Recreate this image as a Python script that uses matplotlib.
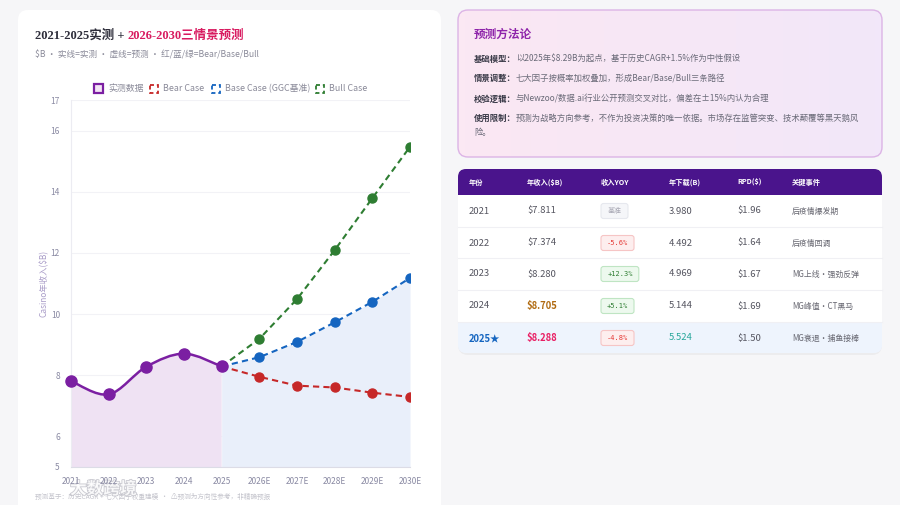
import numpy as np
import matplotlib
matplotlib.use("Agg")
import matplotlib.pyplot as plt
from matplotlib.patches import FancyBboxPatch, Rectangle, PathPatch
from matplotlib.path import Path
from matplotlib.colors import LinearSegmentedColormap
import matplotlib.patheffects as pe

plt.rcParams['font.family'] = ['Noto Sans CJK SC', 'DejaVu Sans']
plt.rcParams['text.parse_math'] = False
SERIF = ['Liberation Serif', 'Noto Sans CJK SC']

# chart data ($B)
years = ['2021', '2022', '2023', '2024', '2025', '2026E', '2027E', '2028E', '2029E', '2030E']
actual = [7.811, 7.374, 8.280, 8.705, 8.288]
bear = [7.95, 7.66, 7.60, 7.43, 7.29]
base = [8.59, 9.09, 9.73, 10.40, 11.18]
bull = [9.19, 10.49, 12.09, 13.79, 15.47]
yticks = [5, 6, 8, 10, 12, 14, 16, 17]

# table data
tbl_head = ['年份', '年收入($B)', '收入YOY', '年下载(B)', 'RPD($)', '关键事件']
tbl_year = ['2021', '2022', '2023', '2024', '2025★']
tbl_rev = ['$7.811', '$7.374', '$8.280', '$8.705', '$8.288']
tbl_yoy = ['基准', '-5.6%', '+12.3%', '+5.1%', '-4.8%']
tbl_dl = ['3.980', '4.492', '4.969', '5.144', '5.524']
tbl_rpd = ['$1.96', '$1.64', '$1.67', '$1.69', '$1.50']
tbl_event = ['后疫情爆发期', '后疫情回调', 'MG上线・强劲反弹', 'MG峰值・CT黑马', 'MG衰退・捕鱼接棒']

method_lbl = ['基础模型：', '情景调整：', '校验逻辑：', '使用限制：']
method_txt = ['以2025年$8.29B为起点，基于历史CAGR+1.5%作为中性假设',
              '七大因子按概率加权叠加，形成Bear/Base/Bull三条路径',
              '与Newzoo/数据.ai行业公开预测交叉对比，偏差在±15%内认为合理',
              '预测为战略方向参考，不作为投资决策的唯一依据。市场存在监管突变、技术颠覆等黑天鹅风']

PURPLE = '#7b1fa2'
RED = '#c62828'
BLUE = '#1565c0'
GREEN = '#2e7d32'

fig = plt.figure(figsize=(9, 5.05), dpi=100)
fig.patch.set_facecolor('#f6f6f8')

# background axes in pixel coordinates
bg = fig.add_axes([0, 0, 1, 1])
bg.set_xlim(0, 900)
bg.set_ylim(505, 0)
bg.axis('off')
bg.set_zorder(0)


def card(x, y, w, h, fc, ec='none', r=10, lw=1, z=1, shadow=True):
    if shadow:
        bg.add_patch(FancyBboxPatch((x, y + 2), w, h, boxstyle=f"round,pad=0,rounding_size={r}",
                                    fc='#000000', ec='none', alpha=0.04, zorder=z - 0.1))
    p = FancyBboxPatch((x, y), w, h, boxstyle=f"round,pad=0,rounding_size={r}",
                       fc=fc, ec=ec, lw=lw, zorder=z)
    bg.add_patch(p)
    return p


renderer = fig.canvas.get_renderer()


def after(t):
    return t.get_window_extent(renderer).x1


# left card
card(18, 10, 423, 510, 'white')
t1 = bg.text(35, 36, '2021-2025实测 + ', fontsize=9, fontweight='bold', color='#2d2d3a',
             va='center', family=SERIF)
bg.text(after(t1), 36, '2026-2030三情景预测', fontsize=9, fontweight='bold', color='#d81b60',
        va='center', family=SERIF)
bg.text(35, 55, '$B · 实线=实测 · 虚线=预测 · 红/蓝/绿=Bear/Base/Bull', fontsize=6.2,
        color='#8a8a99', va='center')

# legend
bg.add_patch(Rectangle((93.5, 84), 9, 9, fc='#f3e5f5', ec=PURPLE, lw=1.6, zorder=3))
bg.text(108, 88.5, '实测数据', fontsize=6.4, color='#8a8a99', va='center')
for x0, col, lab in [(150, RED, 'Bear Case'), (212, BLUE, 'Base Case (GGC基准)'), (316, GREEN, 'Bull Case')]:
    bg.add_patch(Rectangle((x0, 84.5), 8, 8, fc='none', ec=col, lw=1.3, ls=(0, (2.2, 1.6)), zorder=3))
    bg.text(x0 + 13, 88.5, lab, fontsize=6.4, color='#8a8a99', va='center')

# footnote + watermark
bg.text(35, 497, '预测基于：历史CAGR + 七大因子权重建模  ·  ⚠预测为方向性参考，非精确预报',
        fontsize=4.8, color='#c4c4cc', va='center', zorder=5)
wm = bg.text(70, 489, '大数跨境', fontsize=12, fontweight='bold', color='white', va='center', alpha=0.85, zorder=6)
wm.set_path_effects([pe.withStroke(linewidth=1.2, foreground='#c0c0c8')])

# chart axes
ax = fig.add_axes([71 / 900, 1 - 467 / 505, 339 / 900, 367 / 505])
ax.set_zorder(2)
ax.patch.set_alpha(0)
ax.set_xlim(0, 9)
ax.set_ylim(5, 17)
ax.set_yticks(yticks)
ax.set_xticks(range(len(years)))
ax.set_xticklabels(years)
ax.tick_params(length=0, labelsize=6, labelcolor='#8a8aa3')
ax.tick_params(axis='y', pad=8)
ax.tick_params(axis='x', pad=7)
for s in ['top', 'right']:
    ax.spines[s].set_visible(False)
ax.spines['left'].set_color('#ececf2')
ax.spines['bottom'].set_color('#dcdce6')
ax.spines['left'].set_linewidth(0.8)
ax.spines['bottom'].set_linewidth(0.8)
for v in yticks[1:]:
    ax.axhline(v, color='#f2f2f6', lw=0.8, zorder=0)
ax.set_ylabel('Casino年收入($B)', fontsize=6, color='#a99cc8', labelpad=1)

xa = np.arange(len(actual))
xf = np.arange(len(actual) - 1, len(years))


def curve(xs, ys, k=1 / 6):
    pts = np.column_stack([xs, ys])
    verts = [pts[0]]
    codes = [Path.MOVETO]
    n = len(pts)
    for i in range(n - 1):
        p0 = pts[max(i - 1, 0)]
        p1 = pts[i]
        p2 = pts[i + 1]
        p3 = pts[min(i + 2, n - 1)]
        verts += [p1 + (p2 - p0) * k, p2 - (p3 - p1) * k, p2]
        codes += [Path.CURVE4] * 3
    return verts, codes


# fills
base_full = [actual[-1]] + base
ax.fill_between(xf, base_full, 5, color='#e9effa', lw=0, zorder=1)
v, c = curve(xa, actual)
v_fill = v + [(xa[-1], 5), (xa[0], 5), v[0]]
c_fill = c + [Path.LINETO, Path.LINETO, Path.CLOSEPOLY]
ax.add_patch(PathPatch(Path(v_fill, c_fill), fc='#efe2f3', ec='none', zorder=1))

# scenario lines
for vals, col in [(bull, GREEN), (base, BLUE), (bear, RED)]:
    full = [actual[-1]] + vals
    ax.plot(xf, full, color=col, lw=1.5, ls=(0, (3, 2)), zorder=3)
    ax.plot(xf[1:], vals, 'o', color=col, ms=6.5, zorder=4)

# actual line
ax.add_patch(PathPatch(Path(v, c), fc='none', ec=PURPLE, lw=1.8, zorder=5))
ax.plot(xa, actual, 'o', color=PURPLE, ms=8, zorder=6, clip_on=False)

# methodology box with soft gradient
box = card(458, 10, 424, 147, 'none', ec='#dcb4e6', lw=1, shadow=False, z=2)
grad = LinearSegmentedColormap.from_list('g', ['#fbe8f3', '#f2e7f9'])
im = bg.imshow(np.linspace(0, 1, 64).reshape(1, -1), cmap=grad, aspect='auto',
               extent=(458, 882, 157, 10), zorder=1.5)
im.set_clip_path(box)
bg.set_xlim(0, 900)
bg.set_ylim(505, 0)
bg.text(474, 35, '预测方法论', fontsize=8.4, fontweight='bold', color='#8e24aa', va='center', family=SERIF)
for y0, lbl, txt in zip([59, 78, 99, 118], method_lbl, method_txt):
    tl = bg.text(474, y0, lbl, fontsize=6, fontweight='bold', color='#3a3a48', va='center', zorder=3)
    bg.text(after(tl), y0, txt, fontsize=6, color='#6a6a78', va='center', zorder=3)
bg.text(474, 133, '险。', fontsize=6, color='#6a6a78', va='center', zorder=3)

# table
card(458, 169, 424, 184, 'white', z=1)
bg.add_patch(FancyBboxPatch((458, 169), 424, 34, boxstyle="round,pad=0,rounding_size=8",
                            fc='#4a148c', ec='none', zorder=2))
bg.add_patch(Rectangle((458, 195), 424, 127, fc='white', ec='none', zorder=2.1))
bg.add_patch(FancyBboxPatch((458, 322), 424, 31, boxstyle="round,pad=0,rounding_size=8",
                            fc='#eef4fd', ec='none', zorder=2.1))
bg.add_patch(Rectangle((458, 322), 424, 12, fc='#eef4fd', ec='none', zorder=2.2))

col_x = [469, 527, 601, 669, 737, 792]
for x0, h in zip(col_x, tbl_head):
    bg.text(x0, 182, h, fontsize=5.2, fontweight='bold', color='white', va='center', zorder=3)

row_top = [195, 227, 258, 290, 322]
for i in range(len(tbl_year)):
    yc = row_top[i] + 16
    if i > 0:
        bg.plot([458, 882], [row_top[i], row_top[i]], color='#f0f0f4', lw=0.8, zorder=2.5)
    last = i == len(tbl_year) - 1
    bg.text(col_x[0], yc, tbl_year[i], fontsize=6.8, va='center', zorder=3,
            color=BLUE if last else '#555560', fontweight='bold' if last else 'normal')
    rc, rw = '#555560', 'normal'
    if i == 3:
        rc, rw = '#b06a10', 'bold'
    if last:
        rc, rw = '#e91e63', 'bold'
    bg.text(col_x[1], yc, tbl_rev[i], fontsize=6.8, va='center', color=rc, fontweight=rw, zorder=3)
    yoy = tbl_yoy[i]
    if yoy.startswith('+'):
        fc, ec, tc = '#edf9ee', '#bfe5c3', '#2e7d32'
    elif yoy.startswith('-'):
        fc, ec, tc = '#fdeeee', '#f6c5c5', '#e53935'
    else:
        fc, ec, tc = '#f5f6f9', '#e6e8ee', '#a8a8b4'
    w = 27 if i == 0 else 9 + 4.8 * len(yoy)
    bg.add_patch(FancyBboxPatch((601, yc - 7.5), w, 15, boxstyle="round,pad=0,rounding_size=2.5",
                                fc=fc, ec=ec, lw=0.8, zorder=3))
    bg.text(601 + w / 2, yc, yoy, fontsize=5, ha='center', va='center', color=tc, zorder=4,
            family=['DejaVu Sans Mono', 'Noto Sans CJK SC'])
    bg.text(col_x[3], yc, tbl_dl[i], fontsize=6.8, va='center', zorder=3,
            color='#26a69a' if last else '#555560')
    bg.text(col_x[4], yc, tbl_rpd[i], fontsize=6.8, va='center', color='#555560', zorder=3)
    bg.text(col_x[5], yc, tbl_event[i], fontsize=5.7, va='center', color='#666670', zorder=3)

fig.savefig('out.png', dpi=100, facecolor=fig.get_facecolor())
